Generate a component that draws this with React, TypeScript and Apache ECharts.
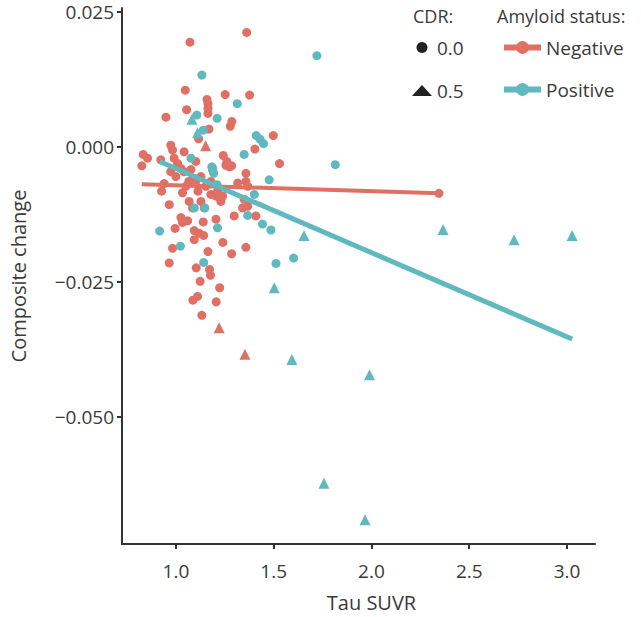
import React, { useEffect, useRef } from "react";
import * as echarts from "echarts";

// Tau SUVR (x) and composite change (y)
const negCdr0: [number, number][] = [
  [1.362, 0.0212], [1.072, 0.0194], [1.048, 0.0105], [1.159, 0.0088], [1.164, 0.008],
  [1.164, 0.0071], [1.164, 0.0062], [1.252, 0.0097], [1.377, 0.0096], [1.055, 0.0069],
  [0.949, 0.0055], [1.286, 0.0047], [1.278, 0.0038], [1.169, 0.0033], [1.116, 0.0015],
  [1.498, 0.0021], [1.404, -0.0004], [0.974, 0.0003], [0.983, -0.0006], [0.833, -0.0014],
  [0.855, -0.0021], [1.042, -0.0009], [1.102, -0.0027], [0.991, -0.0021], [0.826, -0.0035],
  [1.242, -0.0016], [1.261, -0.0027], [1.273, -0.0037], [1.53, -0.0031], [1.009, -0.0031],
  [1.026, -0.004], [0.94, -0.0068], [0.927, -0.0082], [1.034, -0.0085], [0.966, -0.0107],
  [1.068, -0.0101], [1.085, -0.0113], [1.128, -0.0101], [1.145, -0.0113], [1.179, -0.0088],
  [1.153, -0.0073], [1.066, -0.0064], [1.092, -0.0058], [1.026, -0.0131], [1.06, -0.0137],
  [0.923, -0.0024], [0.974, -0.0046], [1.0, -0.0055], [1.051, -0.0073], [1.102, -0.0064],
  [1.128, -0.0055], [1.205, -0.0091], [1.23, -0.0101], [1.113, -0.0082], [1.041, -0.0046],
  [1.077, -0.0042], [1.179, -0.0064], [1.285, -0.0035], [1.256, -0.0034], [1.358, -0.0049],
  [1.316, -0.0067], [1.358, -0.0064], [1.367, -0.0073], [1.188, -0.0043], [1.213, -0.0082],
  [1.239, -0.0091], [1.23, -0.0097], [1.349, -0.0097], [1.341, -0.0113], [1.367, -0.011],
  [1.409, -0.0128], [1.298, -0.0128], [1.205, -0.0134], [1.034, -0.014], [1.14, -0.0139],
  [0.996, -0.0151], [1.094, -0.0155], [1.119, -0.016], [1.142, -0.0164], [1.094, -0.0172],
  [1.24, -0.0177], [1.358, -0.0186], [0.983, -0.0188], [1.164, -0.0194], [1.285, -0.0198],
  [0.966, -0.0215], [1.104, -0.0224], [1.172, -0.0227], [1.177, -0.0238], [1.124, -0.0249],
  [1.224, -0.0261], [1.111, -0.0277], [1.087, -0.0284], [1.206, -0.0287], [1.133, -0.0312],
  [2.345, -0.0086],
];
const negCdr05: [number, number][] = [
  [1.152, 0.0002], [1.221, -0.0335], [1.353, -0.0384],
];
const posCdr0: [number, number][] = [
  [1.133, 0.0133], [1.314, 0.008], [1.107, 0.0059], [1.211, 0.0053], [1.14, 0.0031],
  [1.411, 0.0021], [1.431, 0.0014], [1.448, 0.0006], [1.349, -0.0014], [1.077, -0.0021],
  [1.184, -0.0037], [1.188, -0.004], [1.193, -0.0049], [1.21, -0.007], [1.094, -0.0113],
  [1.148, -0.0113], [1.477, -0.0061], [1.401, -0.0088], [1.367, -0.0127], [1.443, -0.0143],
  [0.917, -0.0156], [1.023, -0.0184], [1.142, -0.0214], [1.213, -0.015], [1.486, -0.0154],
  [1.512, -0.0216], [1.602, -0.0206], [1.721, 0.0169], [1.815, -0.0033],
];
const posCdr05: [number, number][] = [
  [1.082, 0.0051], [1.111, 0.0026], [1.655, -0.0164], [2.366, -0.0153], [2.729, -0.0172],
  [3.026, -0.0164], [1.503, -0.0261], [1.593, -0.0394], [1.99, -0.0422], [1.757, -0.0623],
  [1.967, -0.0691],
];
// Regression line end points
const negFit: [number, number][] = [[0.826, -0.0069], [2.345, -0.0086]];
const posFit: [number, number][] = [[0.917, -0.0027], [3.026, -0.0356]];

const xTicks = [1.0, 1.5, 2.0, 2.5, 3.0];
const yTicks = [-0.05, -0.025, 0, 0.025];
const cdrLevels = ["0.0", "0.5"];
const amyloidLevels = ["Negative", "Positive"];

const RED = "#e07064";
const TEAL = "#5fb9be";
const FONT = "'Open Sans', sans-serif";
const INK = "#3a3a3a";

function fmtY(v: number): string {
  if (Math.abs(v) < 1e-9) return "0.000";
  return v < 0 ? "\u2212" + (-v).toFixed(3) : v.toFixed(3);
}

export default function App() {
  const ref = useRef<HTMLDivElement>(null);
  useEffect(() => {
    if (!ref.current) return;
    const chart = echarts.init(ref.current, undefined, { renderer: "svg" });
    chart.setOption({
      animation: false,
      backgroundColor: "#ffffff",
      textStyle: { fontFamily: FONT },
      grid: { left: 121, right: 46, top: 8, bottom: 69, containLabel: false },
      xAxis: {
        type: "value",
        min: 0.7245,
        max: 3.143,
        name: "Tau SUVR",
        nameLocation: "middle",
        nameGap: 48,
        nameTextStyle: { fontSize: 20, color: INK, fontFamily: FONT, padding: [0, 0, 0, 26] },
        axisLine: { onZero: false, lineStyle: { color: "#333", width: 2 } },
        axisTick: { show: true, length: 5, lineStyle: { color: "#333", width: 2 }, customValues: xTicks },
        axisLabel: {
          customValues: xTicks,
          formatter: (v: number) => v.toFixed(1),
          fontSize: 19,
          color: INK,
          margin: 17,
          fontFamily: FONT,
        },
        splitLine: { show: false },
      },
      yAxis: {
        type: "value",
        min: -0.07357,
        max: 0.02573,
        name: "Composite change",
        nameLocation: "middle",
        nameGap: 94,
        nameTextStyle: { fontSize: 20, color: INK, fontFamily: FONT },
        axisLine: { onZero: false, lineStyle: { color: "#333", width: 2 } },
        axisTick: { show: true, length: 5, lineStyle: { color: "#333", width: 2 }, customValues: yTicks },
        axisLabel: {
          customValues: yTicks,
          formatter: (v: number) => fmtY(v),
          fontSize: 19,
          color: INK,
          margin: 8,
          fontFamily: FONT,
        },
        splitLine: { show: false },
      },
      legend: [
        {
          data: cdrLevels,
          orient: "vertical",
          left: 407,
          top: 33,
          itemWidth: 20,
          itemHeight: 11,
          itemGap: 24,
          textStyle: { fontSize: 19, color: INK, fontFamily: FONT },
          selectedMode: false,
        },
        {
          data: amyloidLevels,
          orient: "vertical",
          left: 496,
          top: 33,
          itemWidth: 37,
          itemHeight: 16,
          itemGap: 23,
          lineStyle: { width: 6 },
          textStyle: { fontSize: 19, color: INK, fontFamily: FONT },
          selectedMode: false,
        },
      ],
      graphic: [
        { type: "text", left: 413, top: 7, style: { text: "CDR:", fontSize: 18, fill: INK, fontFamily: FONT } },
        { type: "text", left: 497, top: 7, style: { text: "Amyloid status:", fontSize: 18, fill: INK, fontFamily: FONT } },
      ],
      series: [
        { name: cdrLevels[0], type: "scatter", data: [], symbol: "circle", itemStyle: { color: "#222", opacity: 1 } },
        { name: cdrLevels[1], type: "scatter", data: [], symbol: "triangle", itemStyle: { color: "#222", opacity: 1 } },
        { name: "neg-0", type: "scatter", data: negCdr0, symbol: "circle", symbolSize: 9, itemStyle: { color: RED, opacity: 1 } },
        { name: "neg-05", type: "scatter", data: negCdr05, symbol: "triangle", symbolSize: 11, itemStyle: { color: RED, opacity: 1 } },
        { name: "pos-0", type: "scatter", data: posCdr0, symbol: "circle", symbolSize: 9, itemStyle: { color: TEAL, opacity: 1 } },
        { name: "pos-05", type: "scatter", data: posCdr05, symbol: "triangle", symbolSize: 11, itemStyle: { color: TEAL, opacity: 1 } },
        {
          name: amyloidLevels[0],
          type: "line",
          data: negFit,
          symbol: "circle",
          showSymbol: false,
          lineStyle: { color: RED, width: 4 },
          itemStyle: { color: RED },
          z: 3,
        },
        {
          name: amyloidLevels[1],
          type: "line",
          data: posFit,
          symbol: "circle",
          showSymbol: false,
          lineStyle: { color: TEAL, width: 5 },
          itemStyle: { color: TEAL },
          z: 4,
        },
      ],
    });
    return () => chart.dispose();
  }, []);
  return (
    <div
      ref={ref}
      style={{ position: "absolute", left: 0, top: 0, width: 641, height: 617, background: "#fff" }}
    />
  );
}
